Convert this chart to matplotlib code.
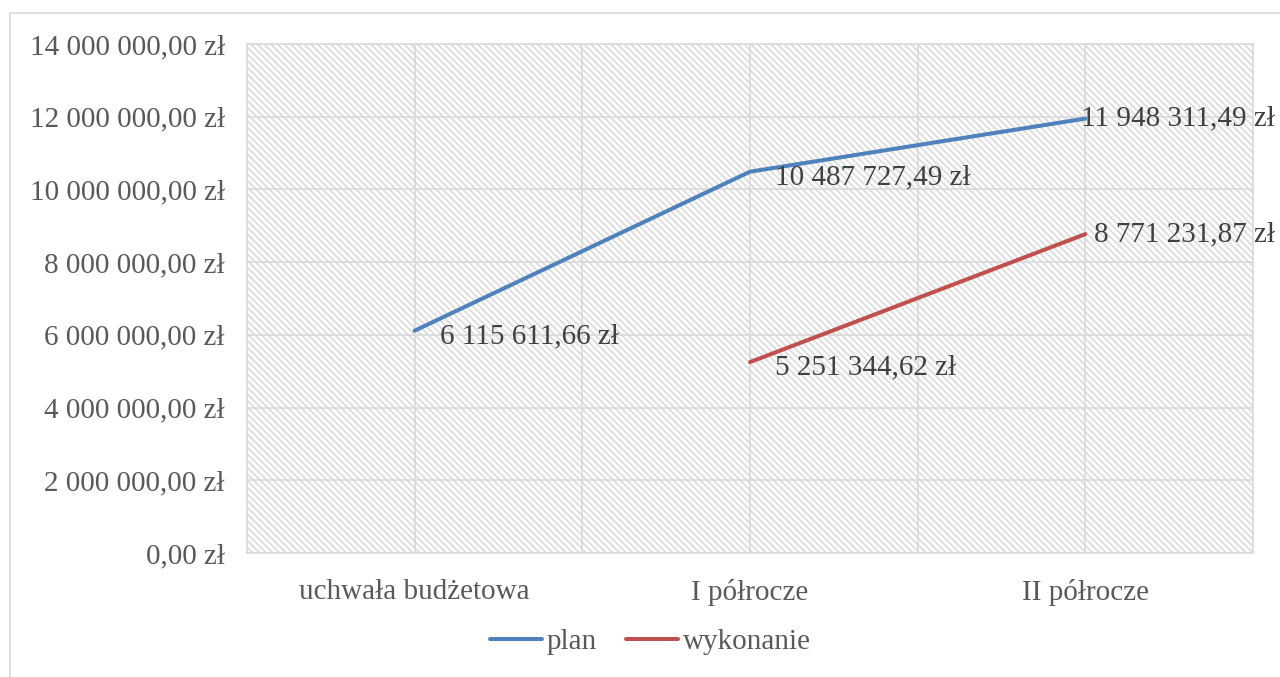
import matplotlib.pyplot as plt
from matplotlib.patches import Rectangle
import numpy as np

kategorie = ["uchwała budżetowa", "I półrocze", "II półrocze"]
plan = [6115611.66, 10487727.49, 11948311.49]
wykonanie = [np.nan, 5251344.62, 8771231.87]
y_ticks = [0, 2e6, 4e6, 6e6, 8e6, 10e6, 12e6, 14e6]

KOLOR_PLAN = "#4F81BD"
KOLOR_WYK = "#C0504D"
SZARY = "#D9D9D9"
TEKST = "#595959"


def zl(v):
    calk, grosze = f"{v:,.2f}".split(".")
    return calk.replace(",", " ") + "," + grosze + " zł"


plt.rcParams["font.family"] = ["Liberation Serif", "DejaVu Serif"]
plt.rcParams["hatch.linewidth"] = 1.3

fig = plt.figure(figsize=(12.8, 6.77), dpi=100)
fig.patches.append(Rectangle((10 / 1280, -0.1), 1.2, 1.1 - 13 / 677,
                             transform=fig.transFigure, facecolor="white",
                             edgecolor=SZARY, linewidth=1.2, zorder=-5))

ax = fig.add_axes([247 / 1280, 1 - 553 / 677, 1006 / 1280, 509 / 677])
ax.patch.set_alpha(0)
x = np.arange(len(kategorie))

# tlo z ukosnym kreskowaniem
ax.add_patch(Rectangle((0, 0), 1, 1, transform=ax.transAxes, facecolor="white",
                       edgecolor="#DCDCDC", linewidth=0, hatch="\\" * 5, zorder=0))

for v in y_ticks:
    ax.axhline(v, color=SZARY, lw=1.2, zorder=1)
for xv in np.arange(0, len(kategorie) - 0.9, 0.5):
    ax.axvline(xv, color=SZARY, lw=1.2, zorder=1)

ax.plot(x, plan, color=KOLOR_PLAN, lw=2.9, solid_capstyle="round", label="plan", zorder=3)
ax.plot(x, wykonanie, color=KOLOR_WYK, lw=2.9, solid_capstyle="round", label="wykonanie", zorder=3)

for seria in (plan, wykonanie):
    for i, v in enumerate(seria):
        if np.isnan(v):
            continue
        if i == len(kategorie) - 1:
            ax.annotate(zl(v), xy=(i, v), xytext=(0.996, v),
                        textcoords=("figure fraction", "data"),
                        ha="right", va="center", fontsize=21, color="#404040", zorder=4)
        else:
            ax.annotate(zl(v), xy=(i, v), xytext=(18, -4), textcoords="offset points",
                        ha="left", va="center", fontsize=21, color="#404040", zorder=4)

ax.set_xlim(-0.5, len(kategorie) - 0.5)
ax.set_ylim(0, 14e6)
ax.set_xticks(x)
ax.set_xticklabels(kategorie)
ax.set_yticks(y_ticks)
ax.set_yticklabels([zl(v) for v in y_ticks])
ax.tick_params(axis="both", length=0, labelsize=21, labelcolor=TEKST)
ax.tick_params(axis="y", pad=16)
ax.tick_params(axis="x", pad=19)
for s in ax.spines.values():
    s.set_color(SZARY)
    s.set_linewidth(1.2)

fig.legend(loc="center", bbox_to_anchor=(0.508, 1 - 642 / 677), ncol=2, frameon=False,
           fontsize=21, labelcolor=TEKST, handlelength=1.8, handletextpad=0.15,
           columnspacing=1.0)

fig.savefig("out.png", dpi=100)
